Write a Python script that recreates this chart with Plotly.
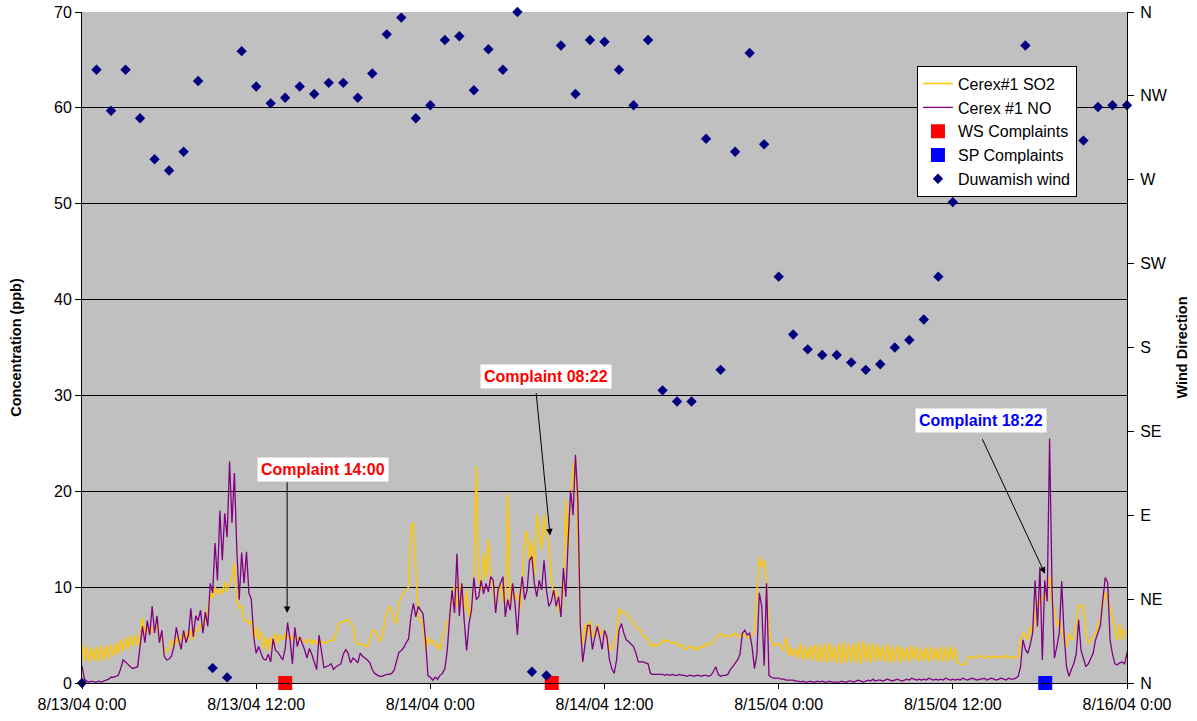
import pandas as pd
import plotly.graph_objects as go

# Cerex #1 readings, 10-minute samples starting 8/13/04 0:00 (one row per hour)
so2_ppb = [
    4.2, 2.3, 3.8, 2.2, 3.7, 2.3,
    3.8, 2.2, 3.9, 2.4, 3.9, 2.5,
    4.0, 2.8, 4.2, 3.0, 4.5, 3.3,
    4.8, 3.5, 4.9, 3.8, 5.0, 3.9,
    5.0, 6.8, 5.2, 6.0, 5.0, 5.8,
    5.5, 6.2, 4.5, 5.0, 3.0, 3.5,
    3.5, 4.5, 3.8, 4.8, 4.0, 5.0,
    4.6, 5.4, 4.4, 5.5, 4.6, 5.6,
    5.5, 6.2, 5.5, 6.5, 7.5, 9.5,
    8.8, 10.0, 9.2, 9.8, 9.3, 10.5,
    9.5, 10.5, 11.0, 12.5, 8.5, 7.8,
    8.0, 6.6, 6.5, 6.2, 6.5, 4.5,
    5.9, 4.5, 5.4, 3.6, 4.8, 3.3,
    4.8, 3.8, 5.2, 4.1, 5.0, 4.5,
    5.2, 4.6, 5.0, 4.5, 4.8, 4.6,
    4.8, 4.4, 4.5, 4.2, 4.6, 4.0,
    4.5, 4.1, 4.6, 4.2, 4.3, 4.1,
    4.4, 4.5, 4.4, 5.2, 6.2, 6.3,
    6.4, 6.5, 6.6, 6.3, 5.9, 4.5,
    4.1, 4.0, 4.1, 3.8, 3.8, 4.5,
    5.4, 5.5, 5.0, 4.3, 4.8, 6.0,
    7.3, 8.0, 7.6, 6.6, 6.2, 8.3,
    9.0, 9.4, 9.7, 10.0, 16.3, 16.7,
    12.1, 6.6, 6.6, 6.2, 3.4, 4.8,
    4.1, 4.5, 3.8, 4.1, 3.4, 4.8,
    5.5, 6.4, 6.6, 9.7, 10.0, 8.0,
    10.4, 9.0, 7.3, 9.7, 6.9, 8.0,
    10.4, 22.6, 11.0, 9.7, 13.5, 10.8,
    15.1, 11.1, 9.4, 8.0, 9.0, 10.4,
    9.0, 8.3, 19.8, 8.0, 10.4, 8.7,
    9.3, 7.6, 10.4, 14.9, 15.9, 12.8,
    14.9, 11.1, 17.6, 15.6, 13.9, 17.6,
    15.3, 14.9, 11.0, 9.0, 9.7, 7.6,
    7.3, 9.7, 19.1, 13.9, 19.4, 22.6,
    23.3, 15.0, 5.5, 4.1, 6.2, 4.8,
    6.5, 4.8, 5.2, 6.2, 4.8, 5.5,
    5.5, 4.5, 3.8, 3.4, 4.2, 5.2,
    7.8, 7.3, 7.3, 7.3, 6.9, 6.6,
    6.2, 5.9, 5.6, 5.5, 4.9, 4.8,
    4.5, 3.8, 4.1, 3.8, 3.9, 4.1,
    4.5, 4.3, 4.5, 4.3, 4.1, 4.3,
    4.1, 3.8, 4.0, 3.6, 3.5, 3.8,
    3.8, 3.6, 3.4, 3.8, 3.7, 3.8,
    4.1, 4.0, 4.1, 4.3, 4.7, 4.9,
    5.2, 4.8, 5.0, 4.9, 4.8, 5.0,
    5.2, 4.9, 4.8, 5.2, 5.0, 4.8,
    4.8, 5.0, 5.5, 9.0, 13.2, 12.1,
    12.8, 10.4, 5.5, 4.5, 3.8, 4.1,
    4.1, 3.8, 3.4, 4.8, 2.8, 3.8,
    2.8, 3.6, 2.6, 4.2, 2.4, 3.8,
    2.4, 3.9, 2.3, 4.0, 2.2, 4.1,
    2.2, 4.0, 2.1, 4.2, 2.2, 3.9,
    2.1, 4.1, 2.0, 4.3, 2.1, 4.0,
    2.2, 4.2, 2.1, 4.3, 2.0, 4.4,
    2.2, 4.1, 2.1, 4.2, 2.2, 4.0,
    2.3, 3.9, 2.2, 4.1, 2.1, 3.8,
    2.2, 3.9, 2.1, 3.8, 2.3, 3.7,
    2.2, 3.9, 2.4, 3.8, 2.2, 3.6,
    2.3, 3.7, 2.2, 3.8, 2.4, 3.6,
    2.2, 3.8, 2.3, 3.7, 2.2, 3.9,
    2.4, 3.6, 2.1, 2.0, 1.9, 1.9,
    2.6, 2.7, 2.8, 2.6, 2.7, 2.9,
    2.7, 2.6, 2.8, 2.7, 2.6, 2.8,
    2.7, 2.8, 2.6, 2.7, 2.9, 2.6,
    2.7, 2.8, 2.6, 2.7, 4.5, 5.2,
    5.0, 4.5, 5.9, 5.2, 6.9, 8.7,
    8.0, 9.0, 8.7, 10.0, 11.1, 8.3,
    7.6, 5.9, 6.6, 5.2, 4.5, 3.8,
    5.2, 4.5, 4.8, 6.2, 8.1, 8.0,
    8.0, 5.2, 4.1, 4.5, 4.8, 5.2,
    6.0, 6.6, 8.0, 9.4, 9.0, 8.0,
    6.9, 5.5, 4.5, 6.2, 4.5, 5.5,
    5.2, 3.8, 5.9,
]

no_ppb = [
    1.8, 0.4, 0.2, 0.1, 0.2, 0.1,
    0.1, 0.2, 0.1, 0.2, 0.3, 0.4,
    0.6, 0.6, 0.7, 0.8, 1.5, 2.4,
    2.2, 1.9, 1.7, 1.5, 1.6, 1.7,
    3.8, 5.9, 4.2, 6.5, 5.0, 8.0,
    5.2, 7.0, 4.2, 5.5, 2.8, 2.4,
    2.5, 2.8, 3.8, 5.8, 4.5, 3.5,
    5.5, 4.2, 5.0, 7.8, 4.8, 7.0,
    6.5, 7.6, 5.2, 7.4, 5.9, 10.4,
    9.4, 14.6, 10.7, 18.0, 12.8, 17.7,
    15.2, 23.1, 16.7, 21.9, 13.9, 8.7,
    13.6, 10.4, 13.7, 9.4, 8.7, 4.8,
    3.1, 3.8, 3.1, 2.5, 2.4, 3.0,
    2.2, 4.6, 3.4, 3.2, 2.8, 2.4,
    3.6, 6.3, 4.5, 2.0, 5.8, 3.8,
    4.8, 4.2, 3.5, 2.6, 3.6, 3.0,
    2.2, 1.4, 5.0, 3.0, 1.6, 1.7,
    1.8, 2.0, 1.4, 1.7, 1.9, 2.0,
    3.0, 3.5, 3.1, 2.1, 2.6, 2.4,
    2.1, 3.1, 2.8, 2.6, 2.4, 2.1,
    1.4, 1.0, 0.8, 0.7, 0.7, 0.8,
    0.9, 0.9, 1.0, 1.3, 2.4, 3.2,
    3.4, 3.7, 4.2, 4.6, 6.9, 8.3,
    6.9, 8.0, 7.6, 7.2, 4.5, 0.8,
    0.6, 0.3, 0.6, 0.4, 0.8, 1.0,
    1.5, 3.4, 6.9, 9.7, 7.3, 13.5,
    7.0, 10.4, 6.5, 3.4, 6.2, 7.6,
    11.0, 8.7, 9.0, 10.7, 9.3, 10.4,
    9.5, 11.1, 10.7, 7.3, 9.7, 10.4,
    11.1, 6.9, 8.7, 7.6, 10.4, 8.3,
    5.0, 9.0, 11.1, 8.7, 9.7, 12.8,
    13.2, 10.4, 9.0, 10.7, 9.7, 12.8,
    9.7, 8.0, 8.5, 9.7, 8.0, 9.0,
    6.9, 12.0, 9.0, 15.0, 20.1, 17.5,
    23.8, 19.0, 6.0, 2.2, 4.0, 6.0,
    6.0, 3.5, 4.8, 5.9, 4.8, 3.5,
    5.5, 4.8, 2.5, 1.5, 1.0, 2.4,
    5.5, 6.2, 5.2, 4.5, 4.3, 4.0,
    3.8, 3.1, 2.2, 2.2, 2.2, 2.1,
    2.0, 1.0, 0.9, 0.9, 0.9, 0.9,
    0.9, 0.8, 0.9, 0.8, 0.9, 0.8,
    0.8, 0.9, 0.8, 0.8, 0.7, 0.8,
    0.8, 0.7, 0.8, 0.8, 0.7, 0.8,
    0.8, 0.7, 0.8, 1.2, 1.7, 0.9,
    0.7, 0.8, 0.8, 0.9, 1.4, 1.7,
    2.0, 2.4, 3.0, 5.2, 5.5, 5.0,
    5.2, 3.8, 1.5, 3.0, 9.4, 8.0,
    1.8, 10.4, 0.8, 0.6, 0.5, 0.5,
    0.5, 0.4, 0.4, 0.3, 0.3, 0.3,
    0.3, 0.2, 0.2, 0.1, 0.2, 0.1,
    0.1, 0.2, 0.1, 0.1, 0.2, 0.1,
    0.2, 0.1, 0.1, 0.2, 0.1, 0.1,
    0.1, 0.1, 0.2, 0.1, 0.1, 0.2,
    0.2, 0.1, 0.2, 0.3, 0.2, 0.1,
    0.2, 0.3, 0.2, 0.4, 0.2, 0.3,
    0.3, 0.2, 0.3, 0.4, 0.3, 0.2,
    0.3, 0.4, 0.3, 0.2, 0.3, 0.4,
    0.3, 0.5, 0.4, 0.3, 0.4, 0.3,
    0.4, 0.3, 0.5, 0.4, 0.3, 0.4,
    0.3, 0.4, 0.3, 0.5, 0.4, 0.3,
    0.4, 0.3, 0.4, 0.3, 0.5, 0.4,
    0.3, 0.4, 0.5, 0.4, 0.3, 0.4,
    0.4, 0.5, 0.3, 0.4, 0.5, 0.4,
    0.3, 0.4, 0.5, 0.4, 0.3, 0.5,
    0.4, 0.4, 0.5, 0.7, 1.7, 4.5,
    3.5, 3.1, 4.0, 5.2, 10.7, 5.9,
    12.1, 2.4, 10.7, 8.5, 25.5, 10.0,
    2.6, 3.8, 5.2, 10.6, 5.0, 1.7,
    0.7, 1.4, 2.0, 3.0, 6.6, 3.4,
    2.6, 1.7, 2.0, 2.6, 3.1, 4.5,
    5.2, 6.0, 8.7, 11.0, 10.5, 4.5,
    3.0, 2.0, 1.9, 2.1, 2.2, 2.0,
    3.1, 3.8, 3.5,
]

# Duwamish hourly wind direction (degrees from north), 8/13 0:00 .. 8/16 0:00
wind_deg = [
    0, 329, 307, 329, 303, 281, 275, 285, 323, 8, 3, 339,
    320, 311, 314, 320, 316, 322, 322, 314, 327, 348, 357, 303,
    310, 345, 347, 318, 340, 329, 360, 6, 4, 342, 316, 345,
    344, 329, 310, 345, 157, 151, 151, 292, 168, 285, 338, 289,
    218, 187, 179, 176, 176, 172, 168, 171, 180, 184, 195, 218,
    258, 265, 288, 309, 319, 342, 327, 314, 312, 291, 309, 310,
    310,
]

ws_complaints = ["2004-08-13 14:00", "2004-08-14 08:22"]
sp_complaints = ["2004-08-15 18:22"]

compass_deg = [0, 45, 90, 135, 180, 225, 270, 315, 360]
compass_lbl = ["N", "NE", "E", "SE", "S", "SW", "W", "NW", "N"]

start = pd.Timestamp("2004-08-13 00:00")
end = pd.Timestamp("2004-08-16 00:00")
t_cerex = pd.date_range(start, periods=len(so2_ppb), freq="10min")
t_wind = pd.date_range(start, periods=len(wind_deg), freq="h")

FONT = "Liberation Sans, Arial, sans-serif"

fig = go.Figure()
fig.add_trace(go.Scatter(
    x=t_cerex, y=so2_ppb, mode="lines", name="Cerex#1 SO2",
    line=dict(color="#FFC800", width=1.5),
))
fig.add_trace(go.Scatter(
    x=t_cerex, y=no_ppb, mode="lines", name="Cerex #1 NO",
    line=dict(color="#800080", width=1.3),
))
fig.add_trace(go.Scatter(
    x=ws_complaints, y=[0] * len(ws_complaints), mode="markers",
    name="WS Complaints", cliponaxis=False,
    marker=dict(symbol="square", size=14, color="#FF0000"),
))
fig.add_trace(go.Scatter(
    x=sp_complaints, y=[0] * len(sp_complaints), mode="markers",
    name="SP Complaints", cliponaxis=False,
    marker=dict(symbol="square", size=14, color="#0000FF"),
))
fig.add_trace(go.Scatter(
    x=t_wind, y=wind_deg, mode="markers", name="Duwamish wind",
    yaxis="y2", cliponaxis=False,
    marker=dict(symbol="diamond", size=8, color="#000080"),
))

# complaint call-outs: label box and a separate arrow to the trace
callouts = [
    dict(text="Complaint 14:00", color="#FF0000",
         box=("2004-08-13 16:36", 22.3),
         tail=("2004-08-13 14:08", 21.1), head=("2004-08-13 14:08", 7.3)),
    dict(text="Complaint 08:22", color="#FF0000",
         box=("2004-08-14 07:58", 32.0),
         tail=("2004-08-14 07:17", 30.4), head=("2004-08-14 08:15", 15.4)),
    dict(text="Complaint 18:22", color="#0000FF",
         box=("2004-08-15 13:56", 27.4),
         tail=("2004-08-15 13:59", 25.6), head=("2004-08-15 18:21", 11.4)),
]
annotations = []
for c in callouts:
    annotations.append(dict(
        x=c["head"][0], y=c["head"][1], xref="x", yref="y",
        ax=c["tail"][0], ay=c["tail"][1], axref="x", ayref="y",
        text="", showarrow=True, arrowhead=2, arrowsize=1.3,
        arrowwidth=1, arrowcolor="#000000",
    ))
    annotations.append(dict(
        x=c["box"][0], y=c["box"][1], xref="x", yref="y",
        text="<b>%s</b>" % c["text"], showarrow=False,
        font=dict(family=FONT, size=16, color=c["color"]),
        bgcolor="#FFFFFF", borderpad=3,
    ))

fig.update_layout(
    width=1197, height=721,
    margin=dict(l=82, r=70, t=12, b=38, autoexpand=False),
    paper_bgcolor="#FFFFFF", plot_bgcolor="#C0C0C0",
    font=dict(family=FONT, size=16, color="#000000"),
    showlegend=True,
    legend=dict(
        x=0.799, y=0.92, xanchor="left", yanchor="top",
        bgcolor="#FFFFFF", bordercolor="#000000", borderwidth=1,
        font=dict(family=FONT, size=16),
        tracegroupgap=0,
    ),
    xaxis=dict(
        type="date", range=[start, end], automargin=False,
        tick0=start, dtick=12 * 3600 * 1000,
        tickformat="%-m/%d/%y %-H:%M",
        ticks="outside", ticklen=5, tickcolor="#000000",
        ticklabelstandoff=2,
        showline=True, linecolor="#000000", linewidth=1,
        showgrid=False, zeroline=False,
        tickfont=dict(size=16),
    ),
    yaxis=dict(
        range=[0, 70], dtick=10, automargin=False,
        showgrid=True, gridcolor="#000000", gridwidth=1,
        ticks="outside", ticklen=6, tickcolor="#000000",
        showline=True, linecolor="#000000", linewidth=1,
        zeroline=False, tickfont=dict(size=16),
        title=dict(text="<b>Concentration (ppb)</b>",
                   font=dict(size=14.5), standoff=28),
    ),
    yaxis2=dict(
        overlaying="y", side="right", range=[0, 360], automargin=False,
        tickmode="array", tickvals=compass_deg, ticktext=compass_lbl,
        showgrid=False, zeroline=False,
        ticks="outside", ticklen=6, tickcolor="#000000",
        ticklabelstandoff=3,
        showline=True, linecolor="#000000", linewidth=1,
        tickfont=dict(size=16),
        title=dict(text="<b>Wind Direction</b>",
                   font=dict(size=14.5), standoff=10),
    ),
    annotations=annotations,
)

fig.write_html("out.html")
